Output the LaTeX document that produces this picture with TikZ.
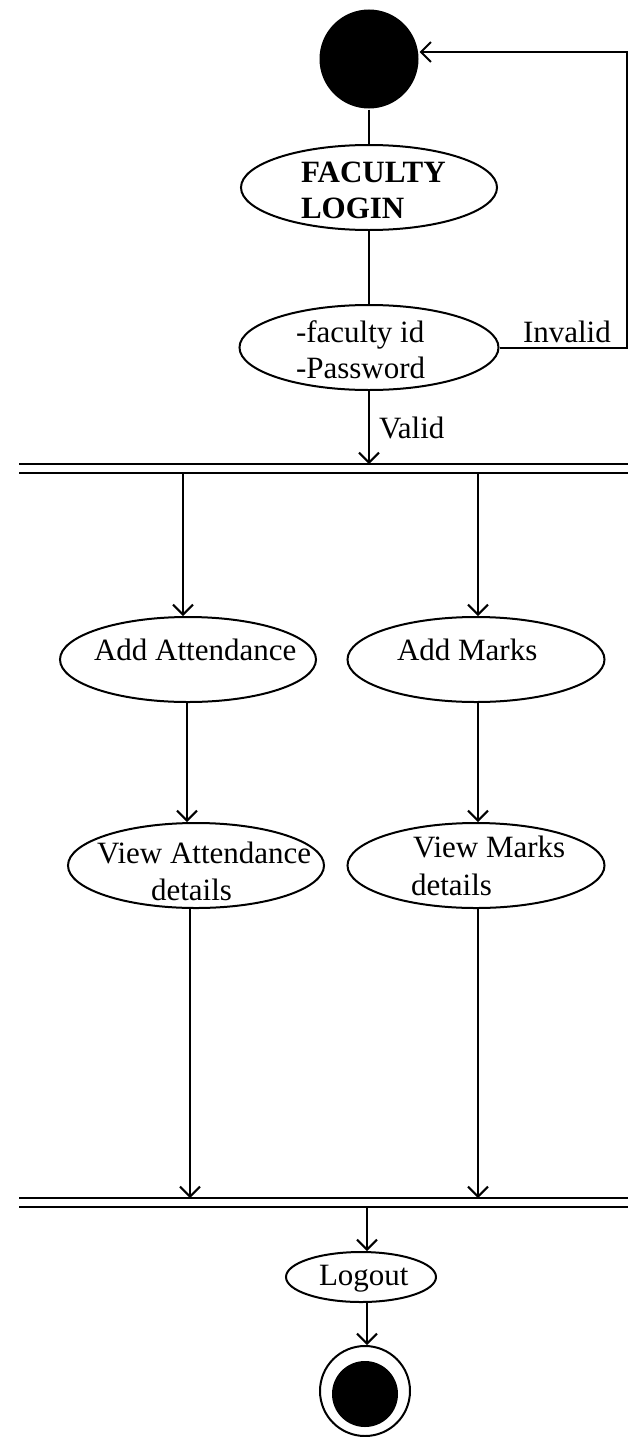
\documentclass[tikz,border=0pt]{standalone}
\usepackage{fontspec}
\setmainfont{Liberation Serif}
\usetikzlibrary{shapes.geometric,arrows.meta}
\begin{document}
\begin{tikzpicture}[x=1pt,y=-1pt,line width=2pt,
  every node/.style={font=\fontsize{31}{36}\selectfont},
  act/.style={ellipse,draw,inner sep=0pt,minimum height=85pt,minimum width=#1},
  txt/.style={inner sep=0pt,anchor=base west},
  bar/.style={inner sep=0pt,minimum width=608pt,minimum height=7pt},
  arr/.style={-{Straight Barb[length=10pt,width=20pt]}},
  barline/.style={line width=2.5pt}]
\useasboundingbox (0,0) rectangle (628,1437);

% initial node and login steps
\node[circle,fill,inner sep=0pt,minimum size=99pt] (start) at (369,59) {};
\node[act=256pt] (login) at (369,187.5) {};
\node[txt,font=\fontsize{31}{36}\selectfont\bfseries] (loginA) at (300,182) {FACULTY};
\node[txt,font=\fontsize{31}{36}\selectfont\bfseries] (loginB) at (300,218) {LOGIN};
\node[act=259pt] (cred) at (369,347.5) {};
\node[txt] (credA) at (295,342) {-faculty id};
\node[txt] (credB) at (295,378) {-Password};

% fork bar
\node[bar] (fork) at (324,468.5) {};
\draw[barline] (fork.north west) -- (fork.north east);
\draw[barline] (fork.south west) -- (fork.south east);

% parallel activities
\node[act=256pt] (att) at (188,659.5) {};
\node[txt] (attT) at (93,660) {Add Attendance};
\node[act=257pt] (marks) at (476,659.5) {};
\node[txt] (marksT) at (396,660) {Add Marks};
\node[act=256pt] (vatt) at (196,865.5) {};
\node[txt] (vattA) at (96,863) {View Attendance};
\node[txt] (vattB) at (150,900) {details};
\node[act=257pt] (vmarks) at (476,865.5) {};
\node[txt] (vmarksA) at (412,857) {View Marks};
\node[txt] (vmarksB) at (410,895) {details};

% join bar
\node[bar] (join) at (324,1202.5) {};
\draw[barline] (join.north west) -- (join.north east);
\draw[barline] (join.south west) -- (join.south east);

% logout and final node
\node[ellipse,draw,inner sep=0pt,minimum width=150pt,minimum height=50pt] (logout) at (361,1277) {};
\node[txt] (logoutT) at (318,1285) {Logout};
\node[circle,draw,inner sep=0pt,minimum size=90pt] (end) at (365,1391) {};
\node[circle,fill,inner sep=0pt,minimum size=66pt] (endIn) at (365,1394) {};

% column positions of the vertical flows
\coordinate (colA) at (183,0);
\coordinate (colB) at (187,0);
\coordinate (colC) at (190,0);
\coordinate (colD) at (478,0);
\coordinate (colE) at (367,0);
\coordinate (back) at (627,52);

% connectors
\draw (start) -- (login);
\draw (login) -- (cred);
\draw[arr] (cred) -- (cred |- fork.north);
\node[txt] (valid) at (378,438) {Valid};
\draw[arr] (cred.east) -| (back) -- (back -| start.east);
\node[txt] (invalid) at (522,342) {Invalid};

\draw[arr] (fork.south -| colA) -- (att.north -| colA);
\draw[arr] (fork.south -| colD) -- (marks.north -| colD);
\draw[arr] (att.south -| colB) -- (vatt.north -| colB);
\draw[arr] (marks.south -| colD) -- (vmarks.north -| colD);
\draw[arr] (vatt.south -| colC) -- (join.north -| colC);
\draw[arr] (vmarks.south -| colD) -- (join.north -| colD);
\draw[arr] (join.south -| colE) -- (logout.north -| colE);
\draw[arr] (logout.south -| colE) -- (end.north -| colE);
\end{tikzpicture}
\end{document}
